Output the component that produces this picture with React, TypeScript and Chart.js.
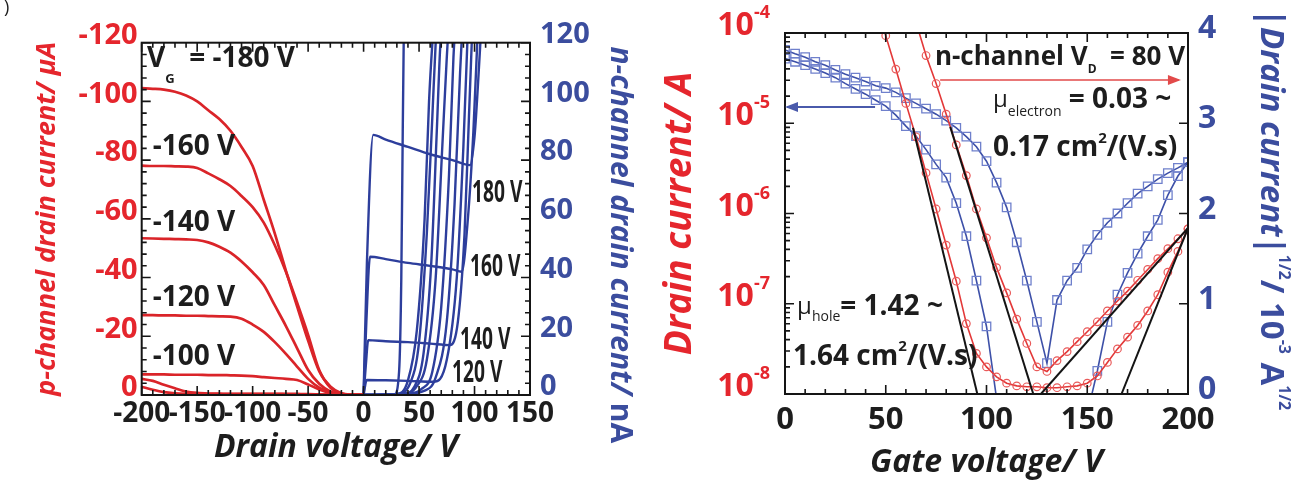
import { useEffect, useRef } from "react";
import { Chart, registerables } from "chart.js";

Chart.register(...registerables);

const FAMILY = "'Open Sans', 'DejaVu Sans', sans-serif";
const RED = "#e5262d";
const BLUE = "#3b4d9e";
const INK = "#1d1d1d";
const P_LINE = "#da2429";
const N_LINE = "#2d3e9c";

// ---------------- Panel 1: output characteristics ----------------
const drainVoltageP = [-200, -190, -180, -170, -160, -150, -140, -130, -120, -110, -100, -90, -80, -70, -60, -50, -40, -30, -20, -10, 0];
const pDrainVg180 = [-104.5, -104.3, -104, -103.3, -102, -100, -97, -94, -90, -84.5, -78, -66.5, -55, -42.3, -30.3, -18.5, -8.1, -2.9, -0.6, -0.1, 0];
const pDrainVg160 = [-78.1, -78, -78, -77.9, -77.8, -77.3, -75.5, -73.5, -71.2, -67.8, -64, -58.7, -51, -42, -31.5, -20.5, -8.5, -2.5, -0.5, -0.1, 0];
const pDrainVg140 = [-53.4, -53.3, -53.2, -53.1, -53, -52.8, -52, -50.5, -48.5, -45.5, -41.8, -37.5, -30.5, -23.5, -16, -8.5, -3.8, -1.2, -0.3, -0.05, 0];
const pDrainVg120 = [-27.2, -27.2, -27.1, -27.1, -27, -27, -26.9, -26.8, -26.7, -26, -24, -21.5, -18, -14, -9.7, -5.5, -2.5, -0.9, -0.25, -0.05, 0];
const pDrainVg100 = [-7.0, -7.0, -7.0, -6.9, -6.9, -6.9, -6.8, -6.8, -6.7, -6.6, -6.4, -6.1, -5.8, -5.5, -5.1, -3.6, -1.9, -0.7, -0.2, -0.05, 0];
const pDrainVg80 = [-5.5, -4.8, -3.5, -2.3, -1.2, -0.7, -0.5, -0.45, -0.4, -0.4, -0.4, -0.4, -0.4, -0.4, -0.35, -0.3, -0.2, -0.1, -0.05, 0, 0];
const pDrainVg60 = [-2.8, -1.8, -1.0, -0.6, -0.4, -0.3, -0.3, -0.3, -0.3, -0.3, -0.3, -0.3, -0.3, -0.25, -0.2, -0.2, -0.15, -0.1, -0.05, 0, 0];
const pGateLabels = ["-160 V", "-140 V", "-120 V", "-100 V"];

const nVd180 = [0, 3, 8.7, 20, 40, 60, 80, 96, 100, 103, 106];
const nId180 = [0, 45, 88.6, 87, 84.5, 82, 80, 78.3, 88, 105, 125];
const nVd160 = [0, 2.5, 5.8, 20, 40, 60, 80, 88.4, 94, 99, 103];
const nId160 = [0, 25, 47.1, 46.3, 45, 44, 42.8, 42, 60, 90, 125];
const nVd140 = [0, 2, 4.2, 20, 40, 60, 77.9, 85, 91, 95, 98];
const nId140 = [0, 10, 18.7, 18.3, 18, 17.5, 17, 25, 55, 95, 125];
const nVd120 = [0, 2.8, 20, 40, 62.8, 75, 84, 90, 94];
const nId120 = [0, 5.1, 5, 4.8, 4.5, 12, 40, 85, 125];
const nVd100 = [0, 40, 55, 65, 75, 82, 87, 89];
const nId100 = [0, 0.5, 1.5, 6, 25, 65, 110, 125];
const nVd80 = [0, 40, 52, 62, 70, 77, 81, 82.5];
const nId80 = [0, 0.4, 2, 8, 30, 75, 115, 125];
const nVd60 = [0, 35, 48, 57, 65, 71, 75, 76.5];
const nId60 = [0, 0.3, 3, 12, 40, 85, 115, 125];
const nVd40 = [0, 35, 46, 54, 61, 66, 69, 70.5];
const nId40 = [0, 0.3, 3, 14, 45, 90, 118, 125];
const nVd20 = [0, 30, 42, 50, 57, 62, 65, 66];
const nId20 = [0, 0.3, 4, 18, 55, 95, 120, 125];
const nVd0 = [0, 30, 40, 48, 55, 59, 62, 63];
const nId0 = [0, 0.3, 5, 22, 60, 100, 120, 125];
const nVdLow = [0, 28, 32, 34, 35.3, 36.3];
const nIdLow = [0, 0.3, 8, 40, 90, 125];
const nGateLabels = ["180 V", "160 V", "140 V", "120 V"];

// ---------------- Panel 2: transfer characteristics ----------------
const gateVoltage = [0, 5, 10, 15, 20, 25, 30, 35, 40, 45, 50, 55, 60, 65, 70, 75, 80, 85, 90, 95, 100, 105, 110, 115, 120, 125, 130, 135, 140, 145, 150, 155, 160, 165, 170, 175, 180, 185, 190, 195, 200];
const drainCurrentA = [6.5e-5, 5.9e-5, 5.4e-5, 4.8e-5, 4.4e-5, 3.9e-5, 3.5e-5, 3.2e-5, 2.9e-5, 2.6e-5, 2.45e-5, 2.2e-5, 1.9e-5, 1.66e-5, 1.45e-5, 1.26e-5, 1.07e-5, 8.9e-6, 7.1e-6, 5.5e-6, 3.8e-6, 2.2e-6, 1.17e-6, 4.8e-7, 1.8e-7, 6.3e-8, 2.2e-8, 1.1e-7, 1.8e-7, 2.5e-7, 4.0e-7, 5.8e-7, 7.9e-7, 1.0e-6, 1.3e-6, 1.66e-6, 2.0e-6, 2.4e-6, 2.8e-6, 3.2e-6, 3.7e-6];
const drainCurrentB = [5.2e-5, 4.8e-5, 4.4e-5, 4.0e-5, 3.6e-5, 3.2e-5, 2.75e-5, 2.4e-5, 2.1e-5, 1.8e-5, 1.55e-5, 1.23e-5, 9.3e-6, 7.2e-6, 5.1e-6, 3.5e-6, 2.5e-6, 1.3e-6, 5.6e-7, 1.8e-7, 5.6e-8, 8.9e-9, null, null, null, null, null, null, null, null, 6e-9, 1.8e-8, 6.3e-8, 1.26e-7, 2.2e-7, 3.6e-7, 5.6e-7, 8.5e-7, 1.6e-6, 2.6e-6, 3.7e-6];
const sqrtCurrentA = [null, null, null, null, null, null, null, null, null, null, null, null, 4.5, 4.12, 3.75, 3.44, 3.1, 2.76, 2.42, 2.05, 1.73, 1.4, 1.12, 0.83, 0.56, 0.3, 0.25, 0.37, 0.47, 0.58, 0.69, 0.8, 0.92, 1.03, 1.14, 1.26, 1.38, 1.5, 1.61, 1.72, 1.83];
const sqrtCurrentB = [null, null, null, null, null, null, null, null, null, 4.35, 3.97, 3.6, 3.22, 2.85, 2.45, 2.05, 1.65, 1.25, 0.78, 0.45, 0.3, 0.19, 0.12, 0.09, 0.08, 0.08, 0.07, 0.07, 0.08, 0.09, 0.12, 0.2, 0.35, 0.5, 0.63, 0.76, 0.92, 1.1, 1.35, 1.58, 1.83];
const fitHoleAVg = [63.5, 96];
const fitHoleAVal = [2.95, -0.05];
const fitHoleBVg = [82, 123.5];
const fitHoleBVal = [2.96, -0.02];
const fitElecAVg = [127, 200];
const fitElecAVal = [0, 1.84];
const fitElecBVg = [167, 200];
const fitElecBVal = [0, 1.84];
const logDecades = [1e-8, 1e-7, 1e-6, 1e-5, 1e-4];

// ---------------- helpers ----------------
type Seg = { t: string; size: number; dy?: number; italic?: boolean; weight?: string; color?: string };

function drawRich(
  ctx: CanvasRenderingContext2D,
  segs: Seg[],
  x: number,
  y: number,
  color: string,
  align: "left" | "center" | "right" = "left",
  rotate = 0,
  sx = 1
) {
  ctx.save();
  ctx.translate(x, y);
  if (rotate) ctx.rotate(rotate);
  ctx.scale(sx, 1);
  const fontOf = (s: Seg) => `${s.italic ? "italic " : ""}${s.weight ?? "bold"} ${s.size}px ${FAMILY}`;
  let total = 0;
  for (const s of segs) {
    ctx.font = fontOf(s);
    total += ctx.measureText(s.t).width;
  }
  let cx = align === "center" ? -total / 2 : align === "right" ? -total : 0;
  ctx.textBaseline = "middle";
  ctx.textAlign = "left";
  for (const s of segs) {
    ctx.font = fontOf(s);
    ctx.fillStyle = s.color ?? color;
    ctx.fillText(s.t, cx, s.dy ?? 0);
    cx += ctx.measureText(s.t).width;
  }
  ctx.restore();
}

function steps(a: number, b: number, step: number) {
  const out: number[] = [];
  for (let v = a; v <= b + 1e-9; v += step) out.push(v);
  return out;
}

type Side = { scale: string; major: number[]; minor: number[] };
function drawFrame(chart: any, sides: { left: Side; right: Side; bottom: Side; top: Side }) {
  const { ctx, chartArea: a, scales } = chart;
  ctx.save();
  ctx.strokeStyle = "#151515";
  ctx.lineWidth = 2;
  ctx.strokeRect(a.left, a.top, a.right - a.left, a.bottom - a.top);
  ctx.lineWidth = 1.6;
  const mark = (side: string, s: Side) => {
    const sc = scales[s.scale];
    ctx.beginPath();
    const put = (v: number, len: number) => {
      const p = sc.getPixelForValue(v);
      if (side === "left") { ctx.moveTo(a.left, p); ctx.lineTo(a.left + len, p); }
      if (side === "right") { ctx.moveTo(a.right, p); ctx.lineTo(a.right - len, p); }
      if (side === "bottom") { ctx.moveTo(p, a.bottom); ctx.lineTo(p, a.bottom - len); }
      if (side === "top") { ctx.moveTo(p, a.top); ctx.lineTo(p, a.top + len); }
    };
    s.minor.forEach((v) => put(v, 5));
    s.major.forEach((v) => put(v, 9));
    ctx.stroke();
  };
  mark("left", sides.left);
  mark("right", sides.right);
  mark("bottom", sides.bottom);
  mark("top", sides.top);
  ctx.restore();
}

function arrow(ctx: CanvasRenderingContext2D, x1: number, x2: number, y: number, color: string, w: number) {
  ctx.save();
  ctx.strokeStyle = color;
  ctx.fillStyle = color;
  ctx.lineWidth = w;
  ctx.beginPath();
  ctx.moveTo(x1, y);
  ctx.lineTo(x2, y);
  ctx.stroke();
  const dir = Math.sign(x2 - x1);
  ctx.beginPath();
  ctx.moveTo(x2 + dir * 2, y);
  ctx.lineTo(x2 - dir * 11, y - 5);
  ctx.lineTo(x2 - dir * 11, y + 5);
  ctx.closePath();
  ctx.fill();
  ctx.restore();
}

const pts = (xs: number[], ys: (number | null)[]) => xs.map((x, i) => ({ x, y: ys[i] }));

export default function App() {
  const leftRef = useRef<HTMLCanvasElement>(null);
  const rightRef = useRef<HTMLCanvasElement>(null);

  useEffect(() => {
    const pLine = (d: number[]) => ({
      data: pts(drainVoltageP, d),
      yAxisID: "y",
      borderColor: P_LINE,
      borderWidth: 2.7,
      pointRadius: 0,
      cubicInterpolationMode: "monotone" as const,
    });
    const nLine = (vd: number[], id: number[]) => ({
      data: pts(vd, id),
      yAxisID: "y1",
      borderColor: N_LINE,
      borderWidth: 2.4,
      pointRadius: 0,
      cubicInterpolationMode: "monotone" as const,
    });

    const leftAnnot = {
      id: "leftAnnot",
      afterDatasetsDraw(chart: any) {
        drawFrame(chart, {
          left: { scale: "y", major: steps(-120, 0, 20), minor: steps(-120, 0, 4) },
          right: { scale: "y1", major: steps(0, 120, 20), minor: steps(0, 120, 4) },
          bottom: { scale: "x", major: steps(-200, 150, 50), minor: steps(-200, 150, 10) },
          top: { scale: "x", major: steps(-200, 150, 50), minor: steps(-200, 150, 10) },
        });
        const { ctx, scales } = chart;
        const xs = scales.x, ys = scales.y, y1 = scales.y1;
        drawRich(ctx, [
          { t: "V", size: 28 },
          { t: "G", size: 13, dy: 20 },
          { t: "  = -180 V", size: 28 },
        ], xs.getPixelForValue(-195.2), ys.getPixelForValue(-114.4), INK);
        const pAnchor = [-84.5, -58.6, -33.0, -12.9];
        pGateLabels.forEach((t, i) =>
          drawRich(ctx, [{ t, size: 28 }], xs.getPixelForValue(-190), ys.getPixelForValue(pAnchor[i]), INK)
        );
        const nAnchorX = [97.7, 95.9, 86.9, 79.7];
        const nAnchorY = [68.8, 43.3, 18.7, 7.5];
        nGateLabels.forEach((t, i) =>
          drawRich(ctx, [{ t, size: 30 }], xs.getPixelForValue(nAnchorX[i]), y1.getPixelForValue(nAnchorY[i]), INK, "left", 0, 0.64)
        );
        // right-hand axis title (blue)
        drawRich(ctx, [
          { t: "n-channel drain current/ ", size: 30, italic: true },
          { t: "nA", size: 30 },
        ], 620, (chart.chartArea.top + chart.chartArea.bottom) / 2 + 26, BLUE, "center", Math.PI / 2);
        drawRich(ctx, [{ t: ")", size: 18, weight: "normal" }], 4, 8, INK);
      },
    };

    const left = new Chart(leftRef.current!, {
      type: "line",
      data: {
        datasets: [
          pLine(pDrainVg180), pLine(pDrainVg160), pLine(pDrainVg140), pLine(pDrainVg120),
          pLine(pDrainVg100), pLine(pDrainVg80), pLine(pDrainVg60),
          nLine(nVd180, nId180), nLine(nVd160, nId160), nLine(nVd140, nId140), nLine(nVd120, nId120),
          nLine(nVd100, nId100), nLine(nVd80, nId80), nLine(nVd60, nId60), nLine(nVd40, nId40),
          nLine(nVd20, nId20), nLine(nVd0, nId0), nLine(nVdLow, nIdLow),
        ] as any,
      },
      options: {
        responsive: false,
        animation: false,
        layout: { padding: { top: 42.7, left: 0, right: 0, bottom: 0 } },
        plugins: { legend: { display: false }, tooltip: { enabled: false } },
        scales: {
          x: {
            type: "linear", min: -200, max: 150,
            afterFit: (s: any) => { s.height = 88; },
            grid: { display: false, drawTicks: false }, border: { display: false },
            ticks: { stepSize: 50, autoSkip: false, maxRotation: 0, padding: 2, color: INK, font: { family: FAMILY, size: 28, weight: "bold" } },
            title: { display: true, text: "Drain voltage/ V", color: INK, font: { family: FAMILY, size: 32, weight: "bold", style: "italic" }, padding: { top: 0, bottom: 16 } },
          },
          y: {
            type: "linear", min: -120, max: 0, reverse: true, position: "left",
            afterFit: (s: any) => { s.width = 141.7; },
            grid: { display: false, drawTicks: false }, border: { display: false },
            ticks: { stepSize: 20, padding: 4, labelOffset: -7, color: RED, font: { family: FAMILY, size: 29, weight: "bold" } },
            title: { display: true, text: "p-channel drain current/ μA", color: RED, font: { family: FAMILY, size: 27, weight: "bold", style: "italic" }, padding: { top: 31, bottom: 0 } },
          },
          y1: {
            type: "linear", min: 0, max: 120, position: "right",
            afterFit: (s: any) => { s.width = 120; },
            grid: { display: false, drawTicks: false }, border: { display: false },
            ticks: { stepSize: 20, padding: 10, labelOffset: -8, color: BLUE, font: { family: FAMILY, size: 29, weight: "bold" } },
          },
        },
      } as any,
      plugins: [leftAnnot],
    });

    const rightAnnot = {
      id: "rightAnnot",
      afterDatasetsDraw(chart: any) {
        const minorLog: number[] = [];
        for (let e = -8; e < -4; e++) for (let k = 2; k <= 9; k++) minorLog.push(k * Math.pow(10, e));
        drawFrame(chart, {
          left: { scale: "y", major: logDecades, minor: minorLog },
          right: { scale: "y1", major: steps(0, 4, 1), minor: [] },
          bottom: { scale: "x", major: steps(0, 200, 50), minor: steps(0, 200, 10) },
          top: { scale: "x", major: steps(0, 200, 50), minor: steps(0, 200, 10) },
        });
        const { ctx, scales, chartArea } = chart;
        const xs = scales.x, ys = scales.y, y1 = scales.y1;
        // log axis labels 10^n
        logDecades.forEach((v) => {
          const e = Math.round(Math.log10(v));
          drawRich(ctx, [
            { t: "10", size: 32 },
            { t: String(e), size: 18, dy: -13 },
          ], chartArea.left - 15, ys.getPixelForValue(v) - 7, RED, "right");
        });
        // right axis title
        drawRich(ctx, [
          { t: "|Drain current|", size: 33, italic: true },
          { t: "1/2", size: 16, dy: -14 },
          { t: "/ 10", size: 33 },
          { t: "-3", size: 16, dy: -14 },
          { t: " A", size: 33 },
          { t: "1/2", size: 16, dy: -14 },
        ], 620, (chartArea.top + chartArea.bottom) / 2 - 4, BLUE, "center", Math.PI / 2);
        // annotations
        drawRich(ctx, [
          { t: "n-channel V", size: 26 },
          { t: "D", size: 12, dy: 12 },
          { t: "  = 80 V", size: 26 },
        ], xs.getPixelForValue(74.4), y1.getPixelForValue(3.73), INK);
        arrow(ctx, xs.getPixelForValue(77), xs.getPixelForValue(195.5), y1.getPixelForValue(3.48), "#e24a4a", 1.6);
        drawRich(ctx, [
          { t: "μ", size: 24, weight: "normal" },
          { t: "electron", size: 14, weight: "normal", dy: 12 },
          { t: " = 0.03 ~", size: 28 },
        ], xs.getPixelForValue(103.2), y1.getPixelForValue(3.26), INK);
        drawRich(ctx, [
          { t: "0.17 cm", size: 28 },
          { t: "2", size: 15, dy: -10 },
          { t: "/(V.s)", size: 28 },
        ], xs.getPixelForValue(103.2), y1.getPixelForValue(2.72), INK);
        arrow(ctx, xs.getPixelForValue(44.7), xs.getPixelForValue(1), y1.getPixelForValue(3.18), "#4a5aab", 2);
        drawRich(ctx, [
          { t: "μ", size: 24, weight: "normal" },
          { t: "hole", size: 14, weight: "normal", dy: 10 },
          { t: "= 1.42 ~", size: 28 },
        ], xs.getPixelForValue(6), y1.getPixelForValue(0.96), INK);
        drawRich(ctx, [
          { t: "1.64 cm", size: 28 },
          { t: "2", size: 15, dy: -10 },
          { t: "/(V.s)", size: 28 },
        ], xs.getPixelForValue(4), y1.getPixelForValue(0.41), INK);
      },
    };

    const fitLine = (vg: number[], val: number[]) => ({
      data: pts(vg, val),
      yAxisID: "y1",
      borderColor: "#141414",
      borderWidth: 2,
      pointRadius: 0,
    });
    const logSet = (d: (number | null)[]) => ({
      data: pts(gateVoltage, d),
      yAxisID: "y",
      borderColor: "#3d50a8",
      borderWidth: 1.6,
      pointStyle: "rect",
      pointRadius: 6,
      pointBorderColor: "#6f80cc",
      pointBackgroundColor: "rgba(0,0,0,0)",
      pointBorderWidth: 1.3,
    });
    const sqrtSet = (d: (number | null)[]) => ({
      data: pts(gateVoltage, d),
      yAxisID: "y1",
      borderColor: "#e33838",
      borderWidth: 1.6,
      pointStyle: "circle",
      pointRadius: 3.8,
      pointBorderColor: "#e95a5a",
      pointBackgroundColor: "rgba(0,0,0,0)",
      pointBorderWidth: 1.2,
    });

    const right = new Chart(rightRef.current!, {
      type: "line",
      data: {
        datasets: [
          fitLine(fitHoleAVg, fitHoleAVal), fitLine(fitHoleBVg, fitHoleBVal),
          fitLine(fitElecAVg, fitElecAVal), fitLine(fitElecBVg, fitElecBVal),
          sqrtSet(sqrtCurrentA), sqrtSet(sqrtCurrentB),
          logSet(drainCurrentA), logSet(drainCurrentB),
        ] as any,
      },
      options: {
        responsive: false,
        animation: false,
        layout: { padding: { top: 33, left: 0, right: 0, bottom: 0 } },
        plugins: { legend: { display: false }, tooltip: { enabled: false } },
        scales: {
          x: {
            type: "linear", min: 0, max: 200,
            afterFit: (s: any) => { s.height = 89; },
            grid: { display: false, drawTicks: false }, border: { display: false },
            ticks: { stepSize: 50, autoSkip: false, maxRotation: 0, padding: 8, color: INK, font: { family: FAMILY, size: 31, weight: "bold" } },
            title: { display: true, text: "Gate voltage/ V", color: INK, font: { family: FAMILY, size: 32, weight: "bold", style: "italic" }, padding: { top: 0, bottom: 1 } },
          },
          y: {
            type: "logarithmic", min: 1e-8, max: 1e-4, position: "left",
            afterFit: (s: any) => { s.width = 135; },
            afterBuildTicks: (s: any) => { s.ticks = logDecades.map((v) => ({ value: v })); },
            grid: { display: false, drawTicks: false }, border: { display: false },
            ticks: { callback: () => "" },
            title: { display: true, text: "Drain current/ A", color: RED, font: { family: FAMILY, size: 37, weight: "bold", style: "italic" }, padding: { top: 8, bottom: 0 } },
          },
          y1: {
            type: "linear", min: 0, max: 4, position: "right",
            afterFit: (s: any) => { s.width = 118; },
            grid: { display: false, drawTicks: false }, border: { display: false },
            ticks: { stepSize: 1, padding: 10, labelOffset: -4, color: BLUE, font: { family: FAMILY, size: 32, weight: "bold" } },
          },
        },
      } as any,
      plugins: [rightAnnot],
    });

    return () => {
      left.destroy();
      right.destroy();
    };
  }, []);

  return (
    <div style={{ position: "fixed", left: 0, top: 0, width: 1306, height: 483, background: "#fff" }}>
      <canvas ref={leftRef} width={650} height={483} style={{ position: "absolute", left: 0, top: 0 }} />
      <canvas ref={rightRef} width={656} height={483} style={{ position: "absolute", left: 650, top: 0 }} />
    </div>
  );
}
